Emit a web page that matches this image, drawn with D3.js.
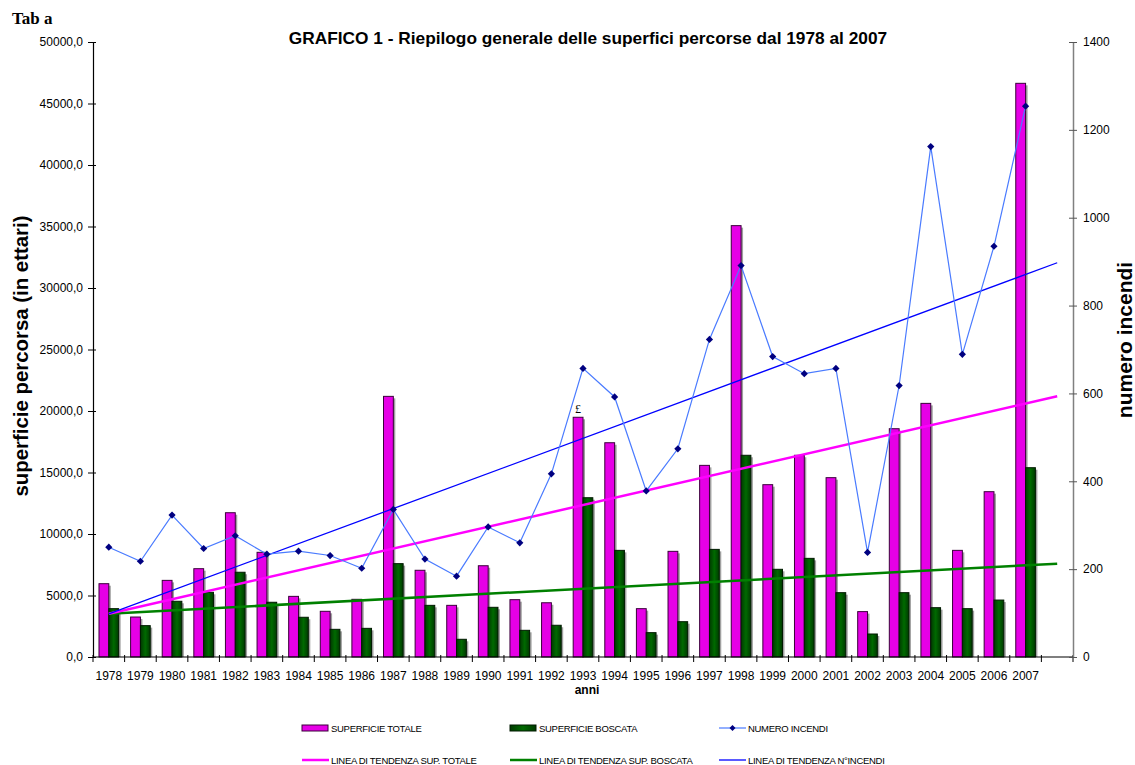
<!DOCTYPE html>
<html>
<head>
<meta charset="utf-8">
<script src="https://cdn.jsdelivr.net/npm/d3@7"></script>
<style>
  body { margin: 0; background: #fff; }
  text { font-family: Arial, "Liberation Sans", sans-serif; }
</style>
</head>
<body>
<svg id="chart" width="1135" height="765"></svg>
<script>
var anni = ["1978","1979","1980","1981","1982","1983","1984","1985","1986","1987",
            "1988","1989","1990","1991","1992","1993","1994","1995","1996","1997",
            "1998","1999","2000","2001","2002","2003","2004","2005","2006","2007"];
var supTotale = [5960,3250,6230,7180,11730,8510,4930,3715,4690,21190,
                 7050,4200,7420,4660,4410,19490,17420,3930,8590,15580,
                 35070,14010,16400,14580,3690,18560,20620,8670,13440,46640];
var supBoscata = [3930,2550,4530,5260,6890,4450,3230,2250,2330,7590,
                  4200,1440,4040,2170,2580,12950,8670,1980,2870,8750,
                  16400,7130,8020,5230,1870,5230,4010,3930,4630,15390];
var numIncendi = [250,218,323,247,276,234,241,231,202,336,
                  223,184,296,260,417,657,592,378,474,723,
                  891,684,645,657,238,618,1162,689,935,1254];
var leftTicks = [0,5000,10000,15000,20000,25000,30000,35000,40000,45000,50000];
var rightTicks = [0,200,400,600,800,1000,1200,1400];

var svg = d3.select("#chart");
var pLeft = 93, pRight = 1073, pTop = 42, pBottom = 657;

// one extra empty slot at the end for the trendline forecast
var slots = anni.concat(["2008"]);
var x = d3.scaleBand().domain(slots).range([pLeft, pRight]).paddingInner(0).paddingOuter(0);
var xs = d3.scaleBand().domain(["tot", "bosc"]).range([0, x.bandwidth()]).paddingInner(0).paddingOuter(0.61);
var yL = d3.scaleLinear().domain([0, 50000]).range([pBottom, pTop]);
var yR = d3.scaleLinear().domain([0, 1400]).range([pBottom, pTop]);

var it = d3.formatLocale({decimal: ",", thousands: ".", grouping: [3], currency: ["", ""]});
var fmt = it.format(".1f");

var defs = svg.append("defs");
var gr = defs.append("linearGradient").attr("id", "gGreen").attr("x1", "0").attr("x2", "1").attr("y1", "0").attr("y2", "0");
gr.append("stop").attr("offset", "0%").attr("stop-color", "#003a00");
gr.append("stop").attr("offset", "50%").attr("stop-color", "#006a00");
gr.append("stop").attr("offset", "100%").attr("stop-color", "#003a00");

// titles
svg.append("text").attr("x", 12).attr("y", 24)
    .style("font-family", "'Liberation Serif', 'DejaVu Serif', serif")
    .style("font-weight", "bold").style("font-size", "17px").text("Tab a");
svg.append("text").attr("x", 588).attr("y", 44).attr("text-anchor", "middle")
    .style("font-weight", "bold").style("font-size", "17.3px")
    .text("GRAFICO 1 - Riepilogo generale delle superfici percorse dal 1978 al 2007");

// bars
var barData = anni.map(function(a, i) {
  return { anno: a, tot: supTotale[i], bosc: supBoscata[i] };
});
var groups = svg.append("g").selectAll("g").data(barData).join("g")
    .attr("transform", function(d) { return "translate(" + x(d.anno) + ",0)"; });

["tot", "bosc"].forEach(function(k) {
  groups.append("rect")
      .attr("x", xs(k) + 2).attr("y", function(d) { return yL(d[k]) + 2; })
      .attr("width", xs.bandwidth()).attr("height", function(d) { return Math.max(0, pBottom - yL(d[k]) - 2); })
      .attr("fill", "#a0a0a0");
  groups.append("rect")
      .attr("x", xs(k)).attr("y", function(d) { return yL(d[k]); })
      .attr("width", xs.bandwidth()).attr("height", function(d) { return pBottom - yL(d[k]); })
      .attr("fill", k == "tot" ? "#e600e6" : "url(#gGreen)")
      .attr("stroke", k == "tot" ? "#3a003a" : "#001a00")
      .attr("stroke-width", 1);
});

// data label over 1993
svg.append("text").attr("x", x("1993") + xs("tot") + xs.bandwidth() / 2).attr("y", yL(supTotale[15]) - 4)
    .attr("text-anchor", "middle")
    .style("font-family", "'Liberation Serif', serif").style("font-size", "12px").text("£");

// trend lines (least squares on category index, forecast one period)
function trend(vals) {
  var n = vals.length;
  var mx = d3.mean(vals, function(v, i) { return i; });
  var my = d3.mean(vals);
  var sxy = 0, sxx = 0;
  vals.forEach(function(v, i) { sxy += (i - mx) * (v - my); sxx += (i - mx) * (i - mx); });
  var b = sxy / sxx, a = my - b * mx;
  return [0, n].map(function(i) { return { i: i, v: a + b * i }; });
}
function cx(i) { return x(slots[i]) + x.bandwidth() / 2; }

var trendLine = function(scale) {
  return d3.line().x(function(d) { return cx(d.i); }).y(function(d) { return scale(d.v); });
};

// axes
var xAxis = svg.append("g");
xAxis.append("line").attr("x1", pLeft).attr("x2", pRight).attr("y1", pBottom).attr("y2", pBottom)
    .attr("stroke", "#000").attr("stroke-width", 1.2);
xAxis.selectAll("line.tk").data(slots.concat(["end"])).join("line").attr("class", "tk")
    .attr("x1", function(d, i) { return pLeft + i * x.step(); })
    .attr("x2", function(d, i) { return pLeft + i * x.step(); })
    .attr("y1", pBottom - 2).attr("y2", pBottom + 5)
    .attr("stroke", "#000");
xAxis.selectAll("text").data(anni).join("text")
    .attr("x", function(d) { return x(d) + x.bandwidth() / 2; })
    .attr("y", 680).attr("text-anchor", "middle")
    .style("font-size", "12px").text(function(d) { return d; });
svg.append("text").attr("x", 587).attr("y", 694).attr("text-anchor", "middle")
    .style("font-weight", "bold").style("font-size", "12px").text("anni");

var yAxisL = svg.append("g").attr("transform", "translate(" + pLeft + ",0)")
    .call(d3.axisLeft(yL).tickValues(leftTicks).tickFormat(fmt).tickSizeInner(5).tickSizeOuter(0).tickPadding(5));
yAxisL.select(".domain").attr("stroke", "#000").attr("stroke-width", 1.2);
yAxisL.selectAll(".tick line").attr("x2", -5).attr("x1", 3);
yAxisL.selectAll(".tick text").style("font-size", "12px").style("font-family", "Arial, 'Liberation Sans', sans-serif").attr("fill", "#000");

var yAxisR = svg.append("g").attr("transform", "translate(" + pRight + ",0)")
    .call(d3.axisRight(yR).tickValues(rightTicks).tickFormat(d3.format("d")).tickSizeInner(4).tickSizeOuter(0).tickPadding(6));
yAxisR.select(".domain").attr("stroke", "#808080").attr("stroke-width", 1.5);
yAxisR.selectAll(".tick line").attr("x1", -4).attr("x2", 4).attr("stroke", "#555");
yAxisR.selectAll(".tick text").style("font-size", "12px").style("font-family", "Arial, 'Liberation Sans', sans-serif").attr("fill", "#000");

svg.append("text").attr("transform", "translate(28,356) rotate(-90)").attr("text-anchor", "middle")
    .style("font-weight", "bold").style("font-size", "20.4px").text("superficie percorsa (in ettari)");
svg.append("text").attr("transform", "translate(1132,340) rotate(-90)").attr("text-anchor", "middle")
    .style("font-weight", "bold").style("font-size", "21px").text("numero incendi");

// trend lines
svg.append("path").datum(trend(supBoscata)).attr("d", trendLine(yL))
    .attr("fill", "none").attr("stroke", "#008000").attr("stroke-width", 2.5);
svg.append("path").datum(trend(supTotale)).attr("d", trendLine(yL))
    .attr("fill", "none").attr("stroke", "#ff00ff").attr("stroke-width", 2.5);
svg.append("path").datum(trend(numIncendi)).attr("d", trendLine(yR))
    .attr("fill", "none").attr("stroke", "#0000ff").attr("stroke-width", 1.3);

// numero incendi line
var incData = anni.map(function(a, i) { return { i: i, v: numIncendi[i] }; });
svg.append("path").datum(incData)
    .attr("d", d3.line().x(function(d) { return cx(d.i); }).y(function(d) { return yR(d.v); }))
    .attr("fill", "none").attr("stroke", "#4a7bff").attr("stroke-width", 1.2);
var diamond = d3.symbol().type(d3.symbolSquare).size(26);
svg.append("g").selectAll("path").data(incData).join("path")
    .attr("transform", function(d) { return "translate(" + cx(d.i) + "," + yR(d.v) + ") rotate(45)"; })
    .attr("d", diamond).attr("fill", "#000080");

// legend
var legend = [
  { label: "SUPERFICIE TOTALE", type: "rect", color: "#e600e6", stroke: "#3a003a", x: 302, y: 728 },
  { label: "SUPERFICIE BOSCATA", type: "rect", color: "url(#gGreen)", stroke: "#001a00", x: 510, y: 728 },
  { label: "NUMERO INCENDI", type: "marker", color: "#4a7bff", x: 719, y: 728 },
  { label: "LINEA DI TENDENZA SUP. TOTALE", type: "line", color: "#ff00ff", w: 2.5, x: 302, y: 760 },
  { label: "LINEA DI TENDENZA SUP. BOSCATA", type: "line", color: "#008000", w: 2.5, x: 510, y: 760 },
  { label: "LINEA DI TENDENZA N°INCENDI", type: "line", color: "#0000ff", w: 1.3, x: 719, y: 760 }
];
var lg = svg.append("g").selectAll("g").data(legend).join("g")
    .attr("transform", function(d) { return "translate(" + d.x + "," + d.y + ")"; });
lg.each(function(d) {
  var g = d3.select(this);
  if (d.type == "rect") {
    g.append("rect").attr("x", 0).attr("y", -3).attr("width", 26).attr("height", 6)
        .attr("fill", d.color).attr("stroke", d.stroke).attr("stroke-width", 1);
  } else {
    g.append("line").attr("x1", 0).attr("x2", 27).attr("y1", 0).attr("y2", 0)
        .attr("stroke", d.color).attr("stroke-width", d.w || 1.2);
    if (d.type == "marker") {
      g.append("path").attr("transform", "translate(13.5,0) rotate(45)").attr("d", d3.symbol().type(d3.symbolSquare).size(18))
          .attr("fill", "#000080");
    }
  }
  g.append("text").attr("x", 29).attr("y", 3.5).style("font-size", "9.5px")
      .style("letter-spacing", "-0.3px").text(d.label);
});
</script>
</body>
</html>
